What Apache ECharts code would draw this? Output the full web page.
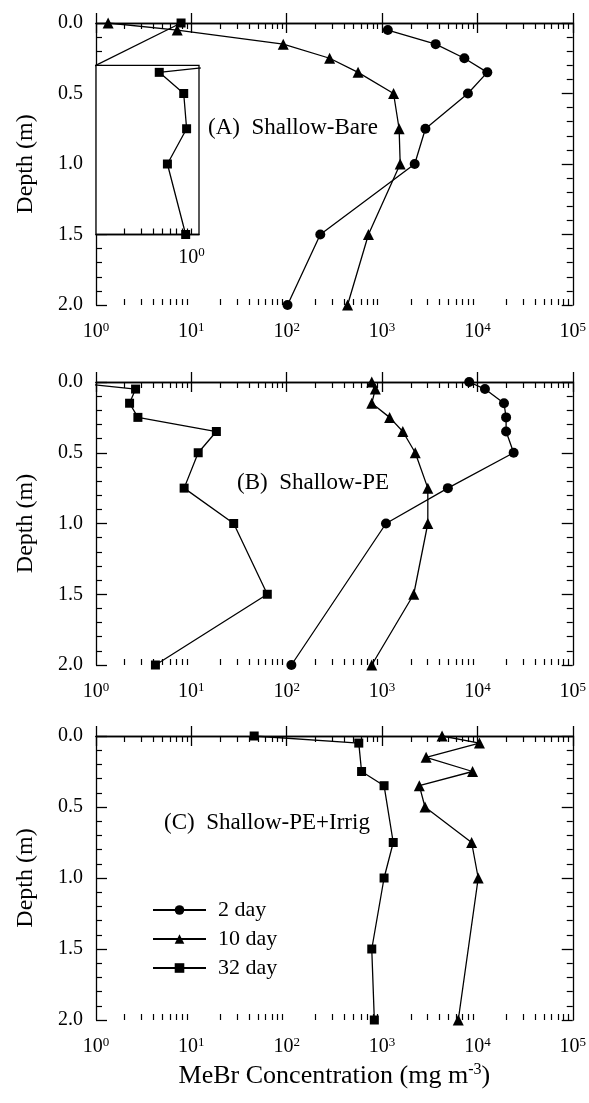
<!DOCTYPE html>
<html>
<head>
<meta charset="utf-8">
<script src="https://cdn.jsdelivr.net/npm/echarts@6/dist/echarts.min.js"></script>
<style>
    html, body { margin: 0; padding: 0; background: #fff; }
    #main { width: 589px; height: 1103px; }
</style>
</head>
<body>
<div id="main"></div>
<script>
// 数据 (depth in m, MeBr concentration in mg m-3)
// (A) Shallow-Bare
var depthA2 = [0.05, 0.15, 0.25, 0.35, 0.5, 0.75, 1.0, 1.5, 2.0];
var concA2 = [1150, 3650, 7300, 12700, 7950, 2850, 2200, 225, 102];
var depthA10 = [0, 0.05, 0.15, 0.25, 0.35, 0.5, 0.75, 1.0, 1.5, 2.0];
var concA10 = [1.34, 7.1, 92, 282, 560, 1320, 1510, 1550, 720, 435];
var depthA32 = [0, 0.35];
var concA32 = [7.8, 0.71];
// inset of (A), 32 day
var depthInset = [0.29, 0.35, 0.5, 0.75, 1.0, 1.5];
var concInset = [3, 0.46, 0.83, 0.89, 0.56, 0.87];

// (B) Shallow-PE
var depthB2 = [0, 0.05, 0.15, 0.25, 0.35, 0.5, 0.75, 1.0, 2.0];
var concB2 = [8200, 12000, 19000, 20000, 20000, 24000, 4900, 1100, 112];
var depthB10 = [0, 0.05, 0.15, 0.25, 0.35, 0.5, 0.75, 1.0, 1.5, 2.0];
var concB10 = [780, 850, 780, 1200, 1650, 2230, 3020, 3020, 2150, 780];
var depthB32 = [0, 0.05, 0.15, 0.25, 0.35, 0.5, 0.75, 1.0, 1.5, 2.0];
var concB32 = [0.5, 2.6, 2.25, 2.75, 18.3, 11.8, 8.4, 27.8, 62.6, 4.2];

// (C) Shallow-PE+Irrig
var depthC10 = [0, 0.05, 0.15, 0.25, 0.35, 0.5, 0.75, 1.0, 2.0];
var concC10 = [4260, 10500, 2900, 8900, 2460, 2820, 8700, 10200, 6300];
var depthC32 = [0, 0.05, 0.25, 0.35, 0.75, 1.0, 1.5, 2.0];
var concC32 = [45.6, 570, 610, 1050, 1310, 1050, 780, 830];

// 坐标轴刻度
var majorTicks = [1, 10, 100, 1000, 10000, 100000];
var minorTicks = [];
for (var e = 0; e < 5; e++) {
    for (var k = 2; k <= 9; k++) {
        minorTicks.push(k * Math.pow(10, e));
    }
}
var insetTicks = [0.2, 0.3, 0.4, 0.5, 0.6, 0.7, 0.8, 0.9, 1];
var insetLabels = [1];
var panelNames = ['(A)  Shallow-Bare', '(B)  Shallow-PE', '(C)  Shallow-PE+Irrig'];
var legendNames = ['2 day', '10 day', '32 day'];

var FONT = 'Liberation Serif';
var panelTop = [23, 382, 736];
var panelHeight = [282, 283, 284];
var labelPos = [[208, 128], [237, 483], [164, 823]];

var supRich = {
    b: {fontFamily: FONT, fontSize: 20, color: '#000'},
    s: {fontFamily: FONT, fontSize: 13, color: '#000', padding: [0, 0, 9, 0]}
};

function supLabel(v) {
    var ex = Math.round(Math.log(v) / Math.LN10);
    return '{b|10}{s|' + ex + '}';
}

function pairs(xs, ys) {
    var out = [];
    for (var i = 0; i < xs.length; i++) {
        out.push([xs[i], ys[i]]);
    }
    return out;
}

var grids = [];
var xAxes = [];
var yAxes = [];
var titles = [];

for (var p = 0; p < 3; p++) {
    grids.push({left: 96, width: 477, top: panelTop[p], height: panelHeight[p], show: false});

    var bottomAxis = {
        type: 'log', logBase: 10, gridIndex: p, min: 1, max: 100000, position: 'bottom',
        axisLine: {lineStyle: {color: '#000', width: 1.3}},
        axisTick: {inside: true, length: 10, customValues: majorTicks, lineStyle: {color: '#000', width: 1.3}},
        axisLabel: {margin: 16, customValues: majorTicks, formatter: supLabel, rich: supRich},
        splitLine: {show: false}
    };
    if (p == 2) {
        bottomAxis.name = 'MeBr Concentration (mg m{s|-3})';
        bottomAxis.nameLocation = 'middle';
        bottomAxis.nameGap = 42;
        bottomAxis.nameTextStyle = {
            fontFamily: FONT, fontSize: 26, color: '#000',
            rich: {s: {fontFamily: FONT, fontSize: 16, color: '#000', padding: [0, 0, 12, 0]}}
        };
    }
    xAxes.push(bottomAxis);
    xAxes.push({
        type: 'log', logBase: 10, gridIndex: p, min: 1, max: 100000, position: 'top',
        axisLine: {lineStyle: {color: '#000', width: 1.3}},
        axisTick: {inside: true, length: 10, customValues: majorTicks, lineStyle: {color: '#000', width: 1.3}},
        axisLabel: {show: false},
        splitLine: {show: false}
    });
    xAxes.push({
        type: 'log', logBase: 10, gridIndex: p, min: 1, max: 100000, position: 'bottom',
        axisLine: {show: false},
        axisTick: {inside: true, length: 6, customValues: minorTicks, lineStyle: {color: '#000', width: 1.2}},
        axisLabel: {show: false},
        splitLine: {show: false}
    });
    xAxes.push({
        type: 'log', logBase: 10, gridIndex: p, min: 1, max: 100000, position: 'top',
        axisLine: {show: false},
        axisTick: {inside: true, length: 6, customValues: minorTicks, lineStyle: {color: '#000', width: 1.2}},
        axisLabel: {show: false},
        splitLine: {show: false}
    });

    yAxes.push({
        type: 'value', gridIndex: p, min: 0, max: 2, interval: 0.5, inverse: true, position: 'left',
        name: 'Depth (m)', nameLocation: 'middle', nameGap: 58,
        nameTextStyle: {fontFamily: FONT, fontSize: 24, color: '#000'},
        axisLine: {lineStyle: {color: '#000', width: 1.3}},
        axisTick: {inside: true, length: 11, lineStyle: {color: '#000', width: 1.3}},
        minorTick: {show: true, splitNumber: 5, length: 6, lineStyle: {color: '#000', width: 1.2}},
        axisLabel: {
            margin: 13, fontFamily: FONT, fontSize: 20, color: '#000',
            formatter: function (v) { return v.toFixed(1); }
        },
        splitLine: {show: false}
    });
    yAxes.push({
        type: 'value', gridIndex: p, min: 0, max: 2, interval: 0.5, inverse: true, position: 'right',
        axisLine: {lineStyle: {color: '#000', width: 1.3}},
        axisTick: {inside: true, length: 11, lineStyle: {color: '#000', width: 1.3}},
        minorTick: {show: true, splitNumber: 5, length: 6, lineStyle: {color: '#000', width: 1.2}},
        axisLabel: {show: false},
        splitLine: {show: false}
    });

    titles.push({
        text: panelNames[p], left: labelPos[p][0], top: labelPos[p][1] - 12, padding: 0,
        textStyle: {fontFamily: FONT, fontSize: 23, fontWeight: 'normal', color: '#000'}
    });
}

// 插图 (inset in panel A)
grids.push({
    left: 96, width: 103, top: 23 + 0.3 * 141, height: 1.2 * 141, z: 3,
    show: true, backgroundColor: '#fff', borderColor: '#000', borderWidth: 1.3
});
xAxes.push({
    type: 'log', logBase: 10, gridIndex: 3, min: 0.1, max: 1.2, position: 'bottom', z: 4,
    axisLine: {lineStyle: {color: '#000', width: 1.3}},
    axisTick: {inside: true, length: 6, customValues: insetTicks, lineStyle: {color: '#000', width: 1.2}},
    axisLabel: {margin: 12, customValues: insetLabels, formatter: supLabel, rich: supRich},
    splitLine: {show: false}
});
yAxes.push({
    type: 'value', gridIndex: 3, min: 0.3, max: 1.5, inverse: true, show: false,
    splitLine: {show: false}
});

function line(name, symbol, size, panel, xs, ys) {
    var xi = panel < 3 ? panel * 4 : 12;
    var yi = panel < 3 ? panel * 2 : 6;
    return {
        name: name, type: 'line', xAxisIndex: xi, yAxisIndex: yi,
        data: pairs(xs, ys), symbol: symbol, symbolSize: size,
        clip: true, z: panel < 3 ? 2 : 5,
        lineStyle: {color: '#000', width: 1.3},
        itemStyle: {color: '#000'}
    };
}

var option = {
    animation: false,
    backgroundColor: '#fff',
    title: titles,
    legend: {
        left: 152, top: 899, orient: 'vertical', selectedMode: false, padding: 0,
        itemWidth: 53, itemHeight: 12, itemGap: 7,
        data: legendNames,
        textStyle: {fontFamily: FONT, fontSize: 22, lineHeight: 22, color: '#000', padding: [0, 0, 0, 7]}
    },
    grid: grids,
    xAxis: xAxes,
    yAxis: yAxes,
    series: [
        line('2 day', 'circle', 10, 0, concA2, depthA2),
        line('10 day', 'triangle', 11, 0, concA10, depthA10),
        line('32 day', 'rect', 9, 0, concA32, depthA32),
        line('32 day', 'rect', 9, 3, concInset, depthInset),
        line('2 day', 'circle', 10, 1, concB2, depthB2),
        line('10 day', 'triangle', 11, 1, concB10, depthB10),
        line('32 day', 'rect', 9, 1, concB32, depthB32),
        line('10 day', 'triangle', 11, 2, concC10, depthC10),
        line('32 day', 'rect', 9, 2, concC32, depthC32)
    ]
};

var myChart = echarts.init(document.getElementById('main'));
myChart.setOption(option);
</script>
</body>
</html>
